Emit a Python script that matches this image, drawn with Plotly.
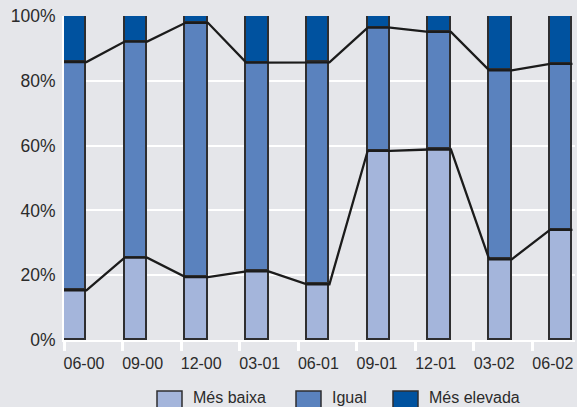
import plotly.graph_objects as go

# Survey shares (%) per quarter
categories = ["06-00", "09-00", "12-00", "03-01", "06-01", "09-01", "12-01", "03-02", "06-02"]
mes_baixa = [15.3, 25.4, 19.4, 21.2, 17.2, 58.4, 58.8, 24.9, 34.0]
igual = [70.5, 66.7, 78.5, 64.4, 68.5, 38.0, 36.3, 58.3, 51.2]
mes_elevada = [14.2, 7.9, 2.1, 14.4, 14.3, 3.6, 4.9, 16.8, 14.8]
y_ticks = [0, 20, 40, 60, 80, 100]

series_names = ["Més baixa", "Igual", "Més elevada"]
colors = ["#A4B5DB", "#5A82BE", "#00529F"]
bg = "#E5E6EA"
text_color = "#2b2b2b"
edge = "#2e2e30"

n = len(categories)
bar_x = list(range(n))
bar_w = 0.37
label_x = [0.145 + 0.9646 * i for i in range(n)]
tick_x = [-0.184 + 0.963 * i for i in range(n)]

fig = go.Figure()
for name, vals, col in zip(series_names, [mes_baixa, igual, mes_elevada], colors):
    fig.add_trace(go.Bar(
        x=bar_x, y=vals, name=name, width=bar_w,
        marker=dict(color=col, line=dict(color=edge, width=1.6)),
        showlegend=False, hoverinfo="y+name",
    ))

# Connecting lines along the segment boundaries
low_top = mes_baixa
mid_top = [a + b for a, b in zip(mes_baixa, igual)]
for tops in (low_top, mid_top):
    xs, ys = [], []
    for i, v in enumerate(tops):
        xs += [bar_x[i] - bar_w / 2, bar_x[i] + bar_w / 2]
        ys += [v, v]
    fig.add_trace(go.Scatter(x=xs, y=ys, mode="lines",
                             line=dict(color="#1b1b1b", width=2.3),
                             showlegend=False, hoverinfo="skip"))

# Legend drawn as boxes + labels
legend_items = [
    (series_names[0], colors[0], 157, 191),
    (series_names[1], colors[1], 296, 330),
    (series_names[2], colors[2], 393, 427),
]
W, H = 577, 407
for name, col, bx, tx in legend_items:
    fig.add_shape(type="rect", xref="paper", yref="paper",
                  x0=(bx - 64) / 511, x1=(bx + 25 - 64) / 511,
                  y0=(340 - 391) / 324, y1=(340 - 409) / 324,
                  fillcolor=col, line=dict(color=edge, width=1.5))
    fig.add_annotation(xref="paper", yref="paper",
                       x=(tx - 64) / 511, y=(340 - 397.5) / 324,
                       text=name, showarrow=False, xanchor="left", yanchor="middle",
                       font=dict(size=16, color=text_color))

fig.update_layout(
    width=W, height=H,
    margin=dict(l=64, r=2, t=16, b=67),
    paper_bgcolor=bg, plot_bgcolor=bg,
    barmode="stack", bargap=0,
    font=dict(family="Liberation Sans, Arial, sans-serif", color=text_color),
    showlegend=False,
)
fig.update_xaxes(
    range=[-0.184, 8.227], tickmode="array", tickvals=label_x, ticktext=categories,
    ticks="", showgrid=False, zeroline=False,
    showline=True, linecolor="white", linewidth=2,
    tickfont=dict(size=16, color=text_color), ticklabelstandoff=8,
    minor=dict(tickmode="array", tickvals=tick_x, ticks="outside",
               ticklen=9, tickwidth=2.5, tickcolor="white", showgrid=False),
)
fig.update_yaxes(
    range=[0, 100], tickmode="array", tickvals=y_ticks,
    ticktext=[f"{v}%" for v in y_ticks],
    showgrid=True, gridcolor="white", gridwidth=2,
    zeroline=False, showline=True, linecolor="white", linewidth=2,
    ticks="", tickfont=dict(size=17.5, color=text_color), ticklabelstandoff=3,
)

fig.write_html("out.html")
